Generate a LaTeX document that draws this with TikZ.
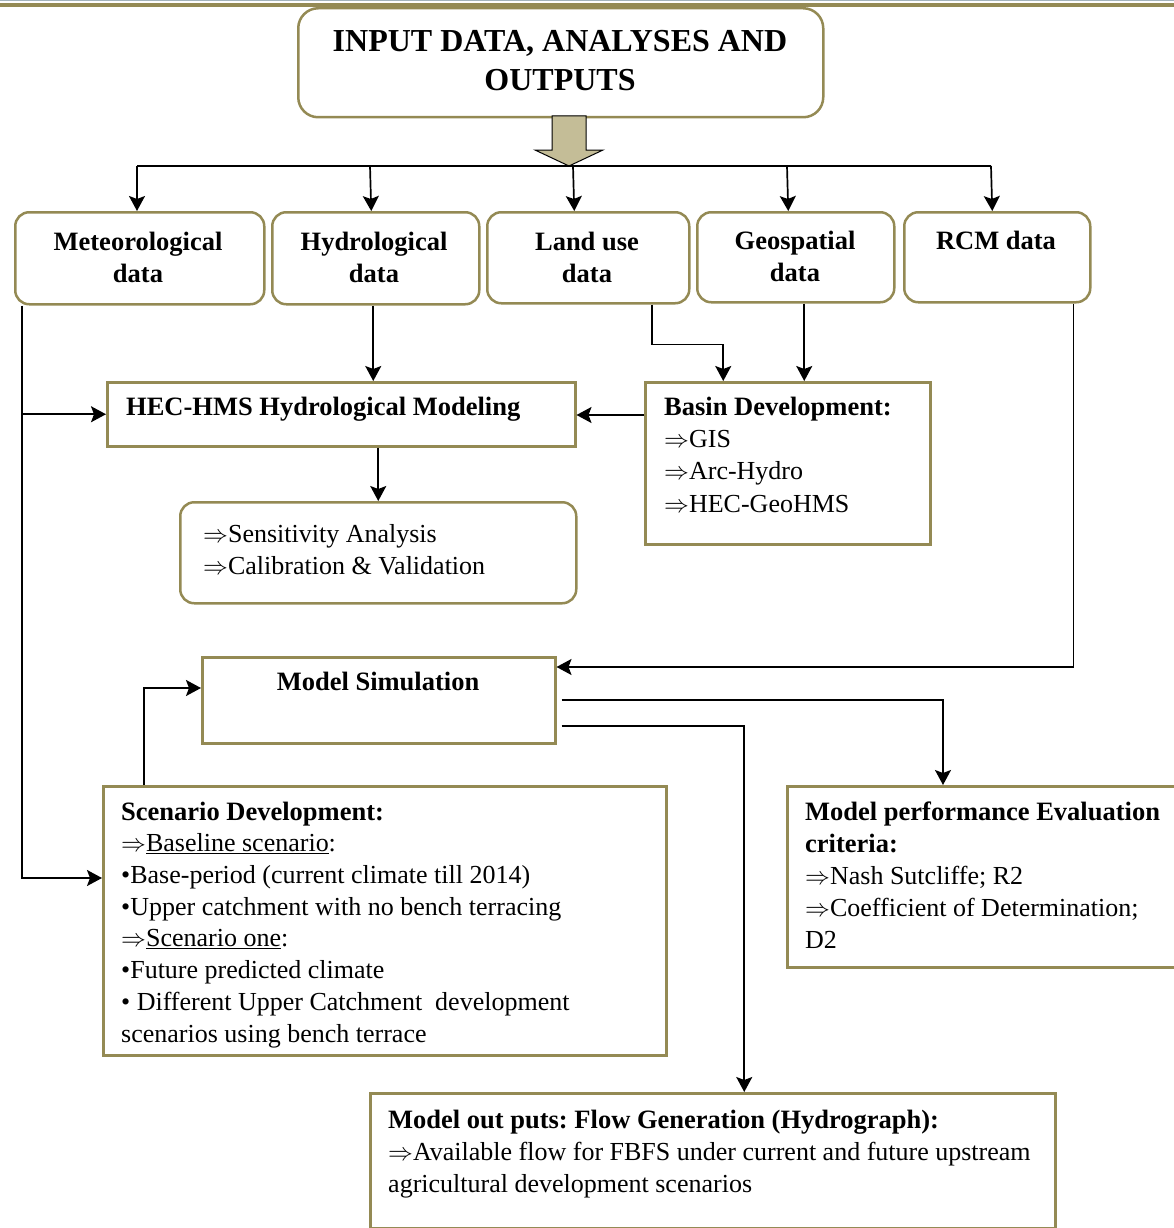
\documentclass[tikz,border=0pt]{standalone}
\usepackage{fontspec}
\setmainfont{Liberation Serif}
\usetikzlibrary{arrows.meta,calc}
\definecolor{bordcol}{HTML}{948A54}
\definecolor{arrfill}{HTML}{C4BD97}
\definecolor{topgray}{HTML}{A3B3BC}
\frenchspacing
\tikzset{
  rbox/.style={draw=bordcol, line width=2.5pt, rounded corners=14pt, fill=white, anchor=north west, inner sep=0pt},
  sbox/.style={draw=bordcol, line width=2.5pt, fill=white, anchor=north west, inner sep=0pt},
  conn/.style={line width=1.7pt, -{Stealth[length=15pt,width=16pt,inset=3pt]}},
  plain/.style={line width=1.7pt},
  txt/.style={anchor=base west, inner sep=0pt, align=left, font=\fontsize{26}{32}\selectfont},
  ctxt/.style={anchor=base, inner sep=0pt, align=center, font=\fontsize{26.5}{32}\selectfont\bfseries},
}
\begin{document}
\begin{tikzpicture}[x=1pt,y=-1pt]
\useasboundingbox (0,0) rectangle (1174,1228);
% top rule
\draw[topgray, line width=1.5pt] (0,0.75) -- (1174,0.75);
\draw[bordcol, line width=4pt] (0,5) -- (1174,5);

% boxes
\node[rbox, rounded corners=20pt, minimum width=525pt, minimum height=109pt] (title) at (297,7) {};
\node[rbox, minimum width=249pt, minimum height=92pt] (met) at (14,211) {};
\node[rbox, minimum width=207pt, minimum height=92pt] (hyd) at (271,211) {};
\node[rbox, minimum width=202pt, minimum height=91pt] (land) at (486,211) {};
\node[rbox, minimum width=197pt, minimum height=90pt] (geo) at (696,211) {};
\node[rbox, minimum width=186pt, minimum height=90pt] (rcm) at (903,211) {};
\node[sbox, minimum width=468pt, minimum height=64pt] (hec) at (106,381) {};
\node[sbox, minimum width=285pt, minimum height=162pt] (basin) at (644,381) {};
\node[rbox, minimum width=396pt, minimum height=101pt] (sens) at (179,501) {};
\node[sbox, minimum width=353pt, minimum height=86pt] (msim) at (201,656) {};
\node[sbox, minimum width=563pt, minimum height=269pt] (scen) at (102,785) {};
\node[sbox, minimum width=400pt, minimum height=181pt] (eval) at (786,785) {};
\node[sbox, minimum width=685pt, minimum height=135pt] (out) at (369,1092) {};

% block arrow
\filldraw[fill=arrfill, draw=black, line width=1pt]
  (552,116) -- (586,116) -- (586,150) -- (603,150) -- (569,166) -- (535,150) -- (552,150) -- cycle;

% texts (anchor base = baseline of the last line)
\node[ctxt, font=\fontsize{32}{39}\selectfont\bfseries] (titleT) at (560,91) {INPUT DATA, ANALYSES AND\\OUTPUTS};
\node[ctxt] (metT) at (138,282) {Meteorological\\data};
\node[ctxt] (hydT) at (374,282) {Hydrological\\data};
\node[ctxt] (landT) at (587,282) {Land use\\data};
\node[ctxt] (geoT) at (795,281) {Geospatial\\data};
\node[ctxt] (rcmT) at (996,249) {RCM data};
\node[txt, font=\fontsize{26.5}{32}\selectfont\bfseries] (hecT) at (126,415) {HEC-HMS Hydrological Modeling};
\node[txt, font=\fontsize{26}{32.3}\selectfont] (basinT) at (664,512) {{\fontsize{26.5}{32.3}\selectfont\bfseries Basin Development:}\\$\Rightarrow$GIS\\$\Rightarrow$Arc-Hydro\\$\Rightarrow$HEC-GeoHMS};
\node[txt] (sensT) at (203,574) {$\Rightarrow$Sensitivity Analysis\\$\Rightarrow$Calibration \& Validation};
\node[ctxt] (msimT) at (378,690) {Model Simulation};
\node[txt, font=\fontsize{26}{31.7}\selectfont] (scenT) at (121,1042) {{\fontsize{26.5}{31.7}\selectfont\bfseries Scenario Development:}\\
$\Rightarrow$\underline{Baseline scenario}:\\
\textbullet Base-period (current climate till 2014)\\
\textbullet Upper catchment with no bench terracing\\
$\Rightarrow$\underline{Scenario one}:\\
\textbullet Future predicted climate\\
\textbullet{} Different Upper Catchment\ \ development\\
scenarios using bench terrace};
\node[txt] (evalT) at (805,948) {{\fontsize{26.5}{32}\selectfont\bfseries Model performance Evaluation}\\{\fontsize{26.5}{32}\selectfont\bfseries criteria:}\\$\Rightarrow$Nash Sutcliffe; R2\\$\Rightarrow$Coefficient of Determination;\\D2};
\node[txt] (outT) at (388,1192) {{\fontsize{26.5}{32}\selectfont\bfseries Model out puts: Flow Generation (Hydrograph):}\\$\Rightarrow$Available flow for FBFS under current and future upstream\\agricultural development scenarios};

% connectors
\coordinate (busL) at (137,166);
\coordinate (busR) at (991,166);
\draw[plain] (busL) -- (busR);
\draw[conn] (busL) -- (busL |- met.north);
\draw[conn] (370,166) -- ($(hyd.north)+(-4.5,0)$);
\draw[conn] (573,166) -- ($(land.north)+(-14,0)$);
\draw[conn] (787,166) -- ($(geo.north)+(-7.5,0)$);
\draw[conn] (busR) -- ($(rcm.north)+(-5,0)$);

\coordinate (mTop) at ($(met.south west)+(8,0)$);
\coordinate (mMid) at (mTop |- hec.west);
\coordinate (mBot) at (22,878);
\draw[conn] (mTop) -- (mBot) -- (mBot -| scen.west);
\draw[conn] (mMid) -- (hec.west);

\coordinate (hA) at ($(hyd.south)+(-2.5,0)$);
\draw[conn] (hA) -- (hA |- hec.north);

\coordinate (lA) at ($(land.south)+(64,0)$);
\coordinate (lB) at ($(land.south)+(64,40)$);
\coordinate (bA) at ($(basin.north)+(-64.5,0)$);
\draw[conn] (lA) -- (lB) -| (bA);
\coordinate (gA) at ($(geo.south)+(8.5,0)$);
\draw[conn] (gA) -- (gA |- basin.north);

\coordinate (bW) at ($(basin.north west)+(0,34)$);
\draw[conn] (bW) -- (bW -| hec.east);

\draw[conn] (sens.north |- hec.south) -- (sens.north);

\coordinate (rA) at ($(rcm.south east)+(-18,0)$);
\coordinate (mE) at ($(msim.north east)+(0,11)$);
\draw[conn] (rA) |- (mE);

\coordinate (sA) at ($(msim.east)+(5,0)$);
\coordinate (sB) at ($(msim.east)+(5,26)$);
\coordinate (eA) at ($(eval.north west)+(157,0)$);
\coordinate (oA) at ($(out.north)+(31.5,0)$);
\draw[conn] (sA) -| (eA);
\draw[conn] (sB) -| (oA);

\coordinate (cA) at ($(scen.north west)+(42,0)$);
\coordinate (cB) at ($(msim.north west)+(0,32)$);
\draw[conn] (cA) |- (cB);
\end{tikzpicture}
\end{document}
